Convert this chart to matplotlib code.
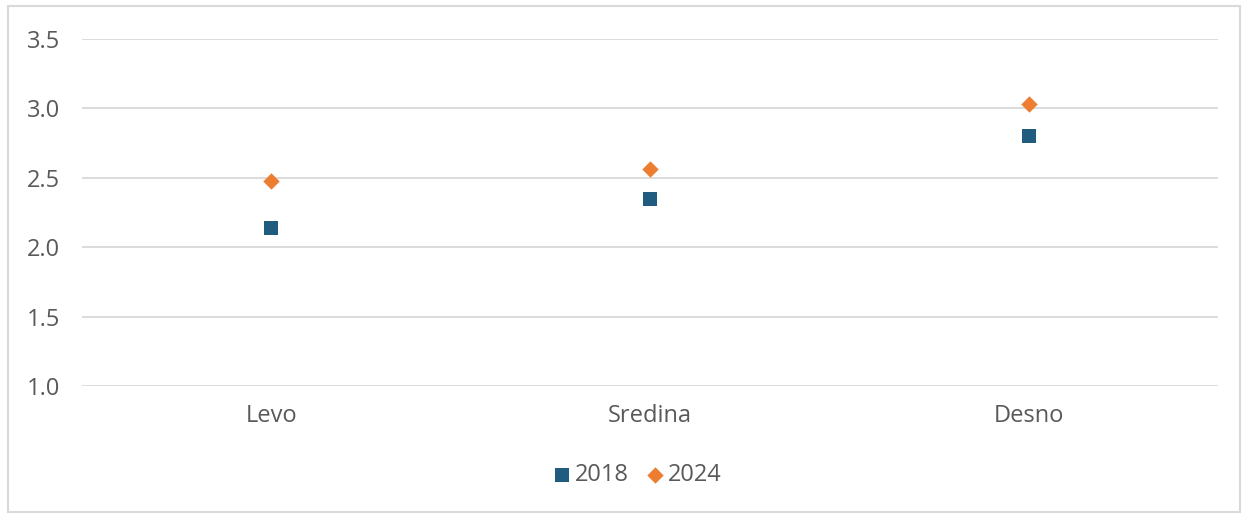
import matplotlib.pyplot as plt
from matplotlib.patches import Rectangle

plt.rcParams['font.family'] = ['Open Sans', 'DejaVu Sans']

categories = ['Levo', 'Sredina', 'Desno']
values_2018 = [2.14, 2.35, 2.80]
values_2024 = [2.48, 2.56, 3.03]

text_color = '#595959'
grid_color = '#d9d9d9'
fs = 17

fig = plt.figure(figsize=(12.48, 5.18), dpi=100)
ax = fig.add_axes([82 / 1248, 1 - 386 / 518, (1218 - 82) / 1248, (386 - 39) / 518])

x = list(range(len(categories)))
ax.scatter(x, values_2018, marker='s', s=110, color='#1f5c80', label='2018', zorder=3, linewidths=0)
ax.scatter(x, values_2024, marker='D', s=70, color='#ed7d31', label='2024', zorder=3, linewidths=0)

ax.set_xlim(-0.5, 2.5)
ax.set_ylim(1.0, 3.5)
ax.set_yticks([1.0, 1.5, 2.0, 2.5, 3.0, 3.5])
ax.set_yticklabels(['%.1f' % v for v in ax.get_yticks()])
ax.set_xticks(x)
ax.set_xticklabels(categories)
ax.grid(axis='y', color=grid_color, linewidth=1.3)
ax.set_axisbelow(True)
for s in ax.spines.values():
    s.set_visible(False)
ax.tick_params(length=0, labelsize=fs, colors=text_color)
ax.tick_params(axis='x', pad=13)
ax.tick_params(axis='y', pad=16)

leg = fig.legend(loc='center', bbox_to_anchor=(636 / 1248, 1 - 475 / 518), ncol=2, frameon=False,
                 fontsize=fs, handletextpad=0.05, columnspacing=0.6, handlelength=1.0,
                 markerscale=1.0)
for t in leg.get_texts():
    t.set_color(text_color)

fig.patches.append(Rectangle((8 / 1248, 6 / 518), 1232 / 1248, 506 / 518, transform=fig.transFigure,
                             fill=False, edgecolor=grid_color, linewidth=1.5))

fig.savefig('out.png', dpi=100)
